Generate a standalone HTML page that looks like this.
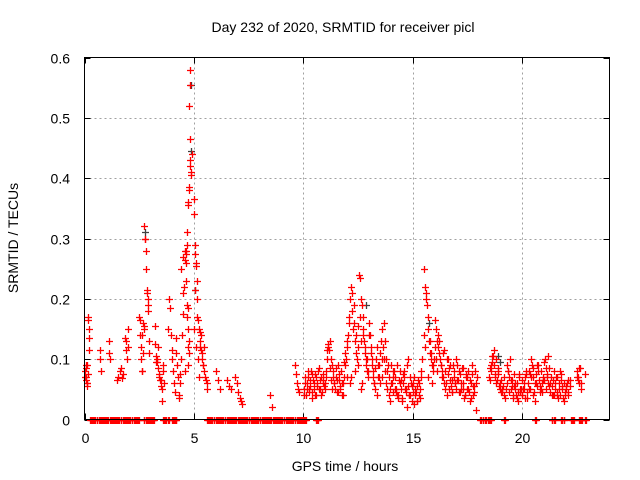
<!DOCTYPE html>
<html><head><meta charset="utf-8"><style>
body{margin:0;background:#fff;}
svg{display:block;font-family:"Liberation Sans",sans-serif;}
</style></head><body>
<svg id="c" width="640" height="480">
<text x="343" y="32" font-size="14" text-anchor="middle">Day 232 of 2020, SRMTID for receiver picl</text>
<text x="345" y="471" font-size="14" text-anchor="middle">GPS time / hours</text>
<text transform="translate(18,238) rotate(-90)" font-size="14" text-anchor="middle">SRMTID / TECUs</text>
<g id="grid"></g>
<g id="ticks"></g>
<g id="marks"></g>
<rect x="84.5" y="57.5" width="525" height="362" fill="none" stroke="#000"/>
</svg>
<script>
const xTicks=[0,5,10,15,20];
const yTicks=[0,0.1,0.2,0.3,0.4,0.5,0.6];
const yTickLabels=["0","0.1","0.2","0.3","0.4","0.5","0.6"];
const times=[0.02,0.05,0.08,0.1,0.12,0.14,0.15,0.17,0.19,0.2,0.22,0.1,0.06,
0.7,0.72,0.75,1.1,1.12,1.15,
1.5,1.55,1.6,1.65,1.7,1.75,1.85,1.88,1.9,1.95,1.98,2.0,
2.5,2.52,2.55,2.6,2.62,2.65,2.68,2.7,2.72,2.74,2.76,2.78,2.8,2.82,2.85,2.86,2.88,2.9,2.92,2.95,2.97,
3.2,3.22,3.25,3.3,3.32,3.35,3.4,3.42,3.45,3.5,3.52,3.55,3.58,3.6,3.62,
3.8,3.85,3.9,3.95,4.0,4.02,4.05,4.1,4.15,4.18,4.2,4.25,4.28,
4.3,4.32,4.35,4.38,4.4,4.45,4.5,4.52,4.55,4.6,4.62,4.65,4.68,4.7,4.72,4.74,4.76,4.78,4.6,
4.7,4.72,4.75,4.77,4.78,4.8,4.82,4.84,4.79,4.81,4.83,4.87,4.86,4.9,
5.0,5.02,5.04,5.06,5.08,5.1,5.12,5.05,5.14,5.16,5.18,5.0,5.1,5.2,5.22,
5.25,5.28,5.3,5.32,5.35,5.38,5.4,5.45,5.5,5.55,5.6,5.62,
6.0,6.1,6.2,6.5,6.6,6.7,6.9,6.95,7.0,7.1,7.15,7.2,8.5,8.55,
9.6,9.65,9.7,9.75,9.8,
10.05,10.1,10.15,10.2,10.25,10.3,10.35,10.4,10.45,10.5,10.55,10.6,10.65,10.7,10.75,10.8,10.85,10.9,10.95,11.0,
11.05,11.1,11.15,11.2,11.25,11.3,11.35,11.4,11.45,11.5,11.55,11.6,11.65,11.7,11.75,11.8,11.85,11.9,11.95,
12.0,12.05,12.1,12.15,12.2,12.22,12.25,12.28,12.3,12.35,12.4,12.45,12.5,12.38,12.18,12.12,
12.55,12.6,12.65,12.7,12.72,12.75,12.78,12.8,12.85,12.9,12.95,12.62,12.68,12.88,
13.0,13.05,13.1,13.15,13.2,13.25,13.3,13.35,13.4,13.45,13.5,13.55,13.6,13.65,13.7,13.75,13.8,13.85,13.9,13.95,13.58,13.62,
14.0,14.1,14.2,14.3,14.4,14.5,14.6,14.7,14.8,14.9,14.05,14.15,14.25,14.35,14.45,14.55,14.65,14.75,14.85,14.95,
15.0,15.1,15.2,15.3,15.4,15.05,15.15,15.25,15.35,
15.5,15.55,15.6,15.62,15.65,15.68,15.7,15.75,15.8,15.85,15.9,15.95,15.58,15.72,15.88,
16.0,16.05,16.1,16.15,16.2,16.25,16.3,16.35,16.4,16.45,16.5,16.55,16.6,16.65,16.7,16.75,16.8,16.85,16.9,16.95,16.18,16.42,
17.0,17.1,17.2,17.3,17.4,17.5,17.6,17.7,17.8,17.9,17.05,17.15,17.25,17.35,17.45,17.55,17.65,17.75,17.85,17.95,
18.5,18.6,18.7,18.8,18.9,19.0,19.1,19.2,18.55,18.65,18.75,18.85,18.95,19.05,
19.3,19.4,19.5,19.6,19.7,19.8,19.9,19.35,19.45,19.55,19.65,19.75,19.85,19.95,
20.0,20.1,20.2,20.3,20.4,20.5,20.6,20.7,20.8,20.9,21.0,21.1,21.2,21.3,21.4,20.05,20.15,20.25,20.35,20.45,20.55,20.65,20.75,20.85,20.95,21.05,21.15,21.25,21.35,21.45,
21.5,21.6,21.7,21.8,21.9,22.0,22.1,22.2,21.55,21.65,21.75,21.85,21.95,22.05,
22.5,22.55,22.6,22.65,22.7,22.9];
const values=[0.08,0.07,0.065,0.09,0.055,0.075,0.17,0.165,0.15,0.135,0.115,0.06,0.085,
0.115,0.1,0.08,0.13,0.11,0.1,
0.065,0.07,0.08,0.085,0.068,0.075,0.135,0.13,0.115,0.1,0.15,0.12,
0.17,0.165,0.14,0.12,0.08,0.08,0.11,0.15,0.155,0.32,0.3,0.3,0.28,0.25,0.215,0.21,0.2,0.19,0.18,0.13,0.11,
0.155,0.125,0.105,0.1,0.095,0.085,0.075,0.07,0.065,0.055,0.05,0.03,0.09,0.08,0.06,
0.15,0.2,0.185,0.14,0.115,0.1,0.08,0.06,0.045,0.135,0.11,0.09,0.07,
0.035,0.04,0.06,0.075,0.1,0.14,0.175,0.21,0.22,0.265,0.275,0.28,0.29,0.19,0.185,0.15,0.13,0.11,0.08,
0.31,0.355,0.36,0.38,0.385,0.42,0.43,0.465,0.52,0.555,0.58,0.405,0.41,0.44,
0.365,0.34,0.29,0.275,0.255,0.26,0.23,0.215,0.2,0.17,0.165,0.15,0.12,0.1,0.07,
0.15,0.145,0.13,0.115,0.11,0.1,0.09,0.08,0.07,0.065,0.05,0.06,
0.08,0.065,0.05,0.065,0.055,0.05,0.07,0.06,0.045,0.035,0.03,0.025,0.04,0.02,
0.09,0.075,0.06,0.05,0.045,
0.04,0.06,0.05,0.07,0.045,0.055,0.08,0.035,0.065,0.05,0.075,0.04,0.06,0.085,0.05,0.07,0.045,0.065,0.055,0.06,
0.08,0.115,0.125,0.13,0.1,0.09,0.07,0.06,0.05,0.085,0.065,0.045,0.075,0.055,0.04,0.06,0.07,0.09,0.1,
0.12,0.14,0.17,0.2,0.22,0.21,0.18,0.15,0.16,0.13,0.11,0.1,0.09,0.08,0.07,0.06,
0.24,0.235,0.2,0.19,0.17,0.15,0.13,0.11,0.09,0.08,0.07,0.05,0.06,0.1,
0.16,0.14,0.12,0.1,0.08,0.06,0.05,0.04,0.07,0.09,0.11,0.13,0.15,0.12,0.1,0.08,0.06,0.05,0.04,0.03,0.1,0.07,
0.09,0.07,0.05,0.04,0.06,0.03,0.08,0.05,0.1,0.04,0.06,0.08,0.045,0.035,0.065,0.075,0.05,0.02,0.04,0.055,
0.06,0.05,0.03,0.04,0.07,0.025,0.045,0.065,0.035,
0.25,0.22,0.21,0.2,0.19,0.17,0.15,0.13,0.11,0.1,0.09,0.08,0.12,0.07,0.06,
0.165,0.15,0.13,0.12,0.11,0.1,0.09,0.08,0.07,0.06,0.05,0.04,0.1,0.085,0.065,0.055,0.045,0.09,0.07,0.06,0.14,0.115,
0.1,0.08,0.06,0.05,0.04,0.07,0.03,0.09,0.055,0.015,0.065,0.045,0.085,0.035,0.075,0.05,0.06,0.04,0.08,0.07,
0.07,0.09,0.115,0.1,0.08,0.06,0.05,0.04,0.085,0.105,0.075,0.065,0.055,0.045,
0.09,0.07,0.05,0.04,0.06,0.03,0.045,0.08,0.1,0.065,0.055,0.035,0.075,0.05,
0.04,0.06,0.08,0.05,0.1,0.07,0.03,0.09,0.055,0.045,0.065,0.085,0.105,0.06,0.04,0.05,0.07,0.035,0.075,0.09,0.045,0.06,0.08,0.05,0.065,0.1,0.07,0.055,0.04,0.08,
0.05,0.04,0.06,0.075,0.03,0.055,0.045,0.065,0.07,0.035,0.08,0.05,0.04,0.06,
0.08,0.07,0.06,0.085,0.05,0.075];
const times2=[10.02,10.08,10.12,10.18,10.22,10.28,10.32,10.38,10.42,10.48,10.52,10.58,10.62,10.68,10.72,10.78,10.82,10.88,10.92,10.98,
11.02,11.08,11.12,11.18,11.22,11.28,11.32,11.38,11.42,11.48,11.52,11.58,11.62,11.68,11.72,11.78,11.82,11.88,11.92,11.98,
12.02,12.08,12.32,12.42,12.48,12.52,12.58,12.64,12.74,12.82,12.92,12.98,
13.02,13.08,13.12,13.18,13.22,13.28,13.32,13.38,13.42,13.48,13.52,13.68,13.72,13.78,13.82,13.88,13.92,13.98,
14.02,14.08,14.12,14.18,14.22,14.28,14.32,14.38,14.42,14.48,14.52,14.58,14.62,14.68,14.72,14.78,14.82,14.88,14.92,14.98,
15.02,15.08,15.12,15.18,15.22,15.28,15.32,15.38,15.45,15.52,15.78,15.82,15.92,15.98,
16.02,16.08,16.12,16.22,16.28,16.32,16.38,16.48,16.52,16.58,16.62,16.68,16.72,16.78,16.82,16.88,16.92,16.98,
17.02,17.08,17.12,17.18,17.22,17.28,17.32,17.38,17.42,17.48,17.52,17.58,17.62,17.68,17.72,17.78,17.82,17.88,
18.52,18.58,18.62,18.68,18.72,18.78,18.82,18.88,18.92,18.98,19.02,19.08,19.12,19.18,19.22,19.28,19.32,19.38,19.42,19.48,19.52,19.58,19.62,19.68,19.72,19.78,19.82,19.88,19.92,19.98,
20.02,20.08,20.12,20.18,20.22,20.28,20.32,20.38,20.42,20.48,20.52,20.58,20.62,20.68,20.72,20.78,20.82,20.88,20.92,20.98,21.02,21.08,21.12,21.18,21.22,21.28,21.32,21.38,21.42,21.48,
21.52,21.58,21.62,21.68,21.72,21.78,21.82,21.88,21.92,21.98,22.02,22.08,22.12,22.18,22.52,22.58,22.62,22.68,
4.42,4.48,4.58,4.64,4.66,4.69,4.71,4.73,3.28,3.38,3.48,2.58,2.64,2.66,5.26,5.34,5.42,5.48,0.04,0.09,0.13];
const values2=[0.05,0.07,0.04,0.06,0.08,0.05,0.065,0.045,0.075,0.06,0.04,0.07,0.055,0.08,0.05,0.065,0.04,0.075,0.06,0.05,
0.07,0.1,0.12,0.115,0.085,0.065,0.05,0.08,0.06,0.07,0.045,0.09,0.065,0.05,0.08,0.06,0.04,0.095,0.11,0.07,
0.13,0.16,0.19,0.14,0.12,0.155,0.17,0.13,0.14,0.12,0.1,0.08,
0.14,0.11,0.09,0.07,0.06,0.085,0.1,0.12,0.09,0.07,0.06,0.16,0.13,0.1,0.08,0.09,0.07,0.05,
0.06,0.08,0.045,0.07,0.05,0.09,0.04,0.065,0.08,0.05,0.035,0.06,0.07,0.045,0.09,0.055,0.04,0.07,0.06,0.03,
0.045,0.07,0.04,0.055,0.03,0.06,0.05,0.08,0.1,0.14,0.13,0.11,0.09,0.1,
0.12,0.1,0.08,0.13,0.09,0.07,0.11,0.08,0.06,0.1,0.075,0.05,0.09,0.065,0.045,0.08,0.06,0.05,
0.09,0.065,0.045,0.075,0.05,0.085,0.06,0.04,0.07,0.05,0.08,0.045,0.065,0.035,0.075,0.055,0.045,0.06,
0.065,0.08,0.095,0.105,0.09,0.07,0.06,0.085,0.075,0.05,0.065,0.045,0.055,0.07,0.035,0.05,0.06,0.08,0.045,0.065,0.055,0.035,0.075,0.05,0.04,0.06,0.045,0.07,0.05,0.04,
0.065,0.05,0.035,0.075,0.045,0.06,0.08,0.05,0.07,0.04,0.085,0.06,0.075,0.055,0.09,0.065,0.045,0.08,0.06,0.07,0.095,0.05,0.075,0.06,0.085,0.045,0.07,0.055,0.065,0.04,
0.06,0.045,0.07,0.05,0.04,0.065,0.055,0.035,0.06,0.045,0.05,0.065,0.04,0.055,0.07,0.065,0.085,0.06,
0.25,0.27,0.28,0.26,0.23,0.17,0.12,0.09,0.095,0.12,0.065,0.1,0.14,0.16,0.12,0.14,0.09,0.12,0.07,0.09,0.06];
const zeroTimes=[0.25,0.35,0.45,0.55,0.65,0.75,0.85,0.95,1.05,1.15,1.25,1.35,1.45,1.55,1.65,1.75,1.85,1.95,2.05,2.15,2.25,2.35,2.45,
2.7,2.8,2.9,3.0,3.1,3.15,3.6,3.7,3.8,4.0,4.1,4.16,
5.6,5.7,5.8,5.9,6.0,6.1,6.2,6.3,6.4,6.5,6.6,6.7,6.8,6.9,7.0,7.1,7.2,7.3,7.4,7.5,7.6,7.7,7.8,7.9,8.0,8.1,8.2,8.3,8.4,8.5,8.6,8.7,8.8,8.9,9.0,9.1,9.2,9.3,9.4,9.5,9.6,9.7,9.8,9.9,10.0,10.1,
10.6,10.65,18.1,18.2,18.3,18.45,18.55,19.2,20.6,21.35,21.45,21.8,21.9,22.25,22.35,22.6,22.7,22.9];
const darkTimes=[2.75,4.85,4.88,5.05,12.85,15.75,18.9,19.0];
const darkValues=[0.31,0.555,0.445,0.215,0.19,0.16,0.105,0.095];

const X0=84.5,X1=609.5,Y0=419.5,Y1=57.5;
function xs(t){return X0+(t/24)*(X1-X0);}
function ys(v){return Y0-(v/0.6)*(Y0-Y1);}
const NS="http://www.w3.org/2000/svg";
const grid=document.getElementById('grid'),ticks=document.getElementById('ticks'),marks=document.getElementById('marks');
function mk(tag,a,parent){const e=document.createElementNS(NS,tag);for(const k in a)e.setAttribute(k,a[k]);parent.appendChild(e);return e;}
xTicks.forEach(t=>{
 const x=Math.round(xs(t))+0.5;
 if(t>0){const g=mk('line',{x1:x,x2:x,y1:Y1,y2:Y0,stroke:'#a0a0a0','stroke-dasharray':'2,3'},grid);
 
 }
 mk('line',{x1:x,x2:x,y1:Y0,y2:Y0-6,stroke:'#000'},ticks);
 mk('line',{x1:x,x2:x,y1:Y1,y2:Y1+6,stroke:'#000'},ticks);
 const l=mk('text',{x:x,y:443,'font-size':14,'text-anchor':'middle'},ticks);l.textContent=t;
 
 
});
yTicks.forEach((v,i)=>{
 const y=Math.round(ys(v))+0.5;
 if(v>0&&v<0.6){const g=mk('line',{x1:X0,x2:X1,y1:y,y2:y,stroke:'#a0a0a0','stroke-dasharray':'2,3'},grid);
 
 }
 mk('line',{x1:X0,x2:X0+6,y1:y,y2:y,stroke:'#000'},ticks);
 mk('line',{x1:X1,x2:X1-6,y1:y,y2:y,stroke:'#000'},ticks);
 const l=mk('text',{x:70,y:y+5,'font-size':14,'text-anchor':'end'},ticks);l.textContent=yTickLabels[i];
 
 
});
function plus(t,v,col,name){
 const x=Math.round(xs(t))+0.5,y=Math.round(ys(v))+0.5;
 const p=mk('path',{d:`M${x-3.5},${y}H${x+3.5}M${x},${y-3.5}V${y+3.5}`,stroke:col,'stroke-width':1.3,fill:'none'},marks);
 
 
}
darkTimes.forEach((t,i)=>plus(t,darkValues[i],'#404040','dark-point'));
zeroTimes.forEach(t=>{plus(t,0,'#ff0000','zero-point');plus(t+0.04,0,'#ff0000','zero-point');});
times.forEach((t,i)=>plus(t,values[i],'#ff0000','srmtid-point'));
times2.forEach((t,i)=>plus(t,values2[i],'#ff0000','srmtid-point'));
</script>
</body></html>
